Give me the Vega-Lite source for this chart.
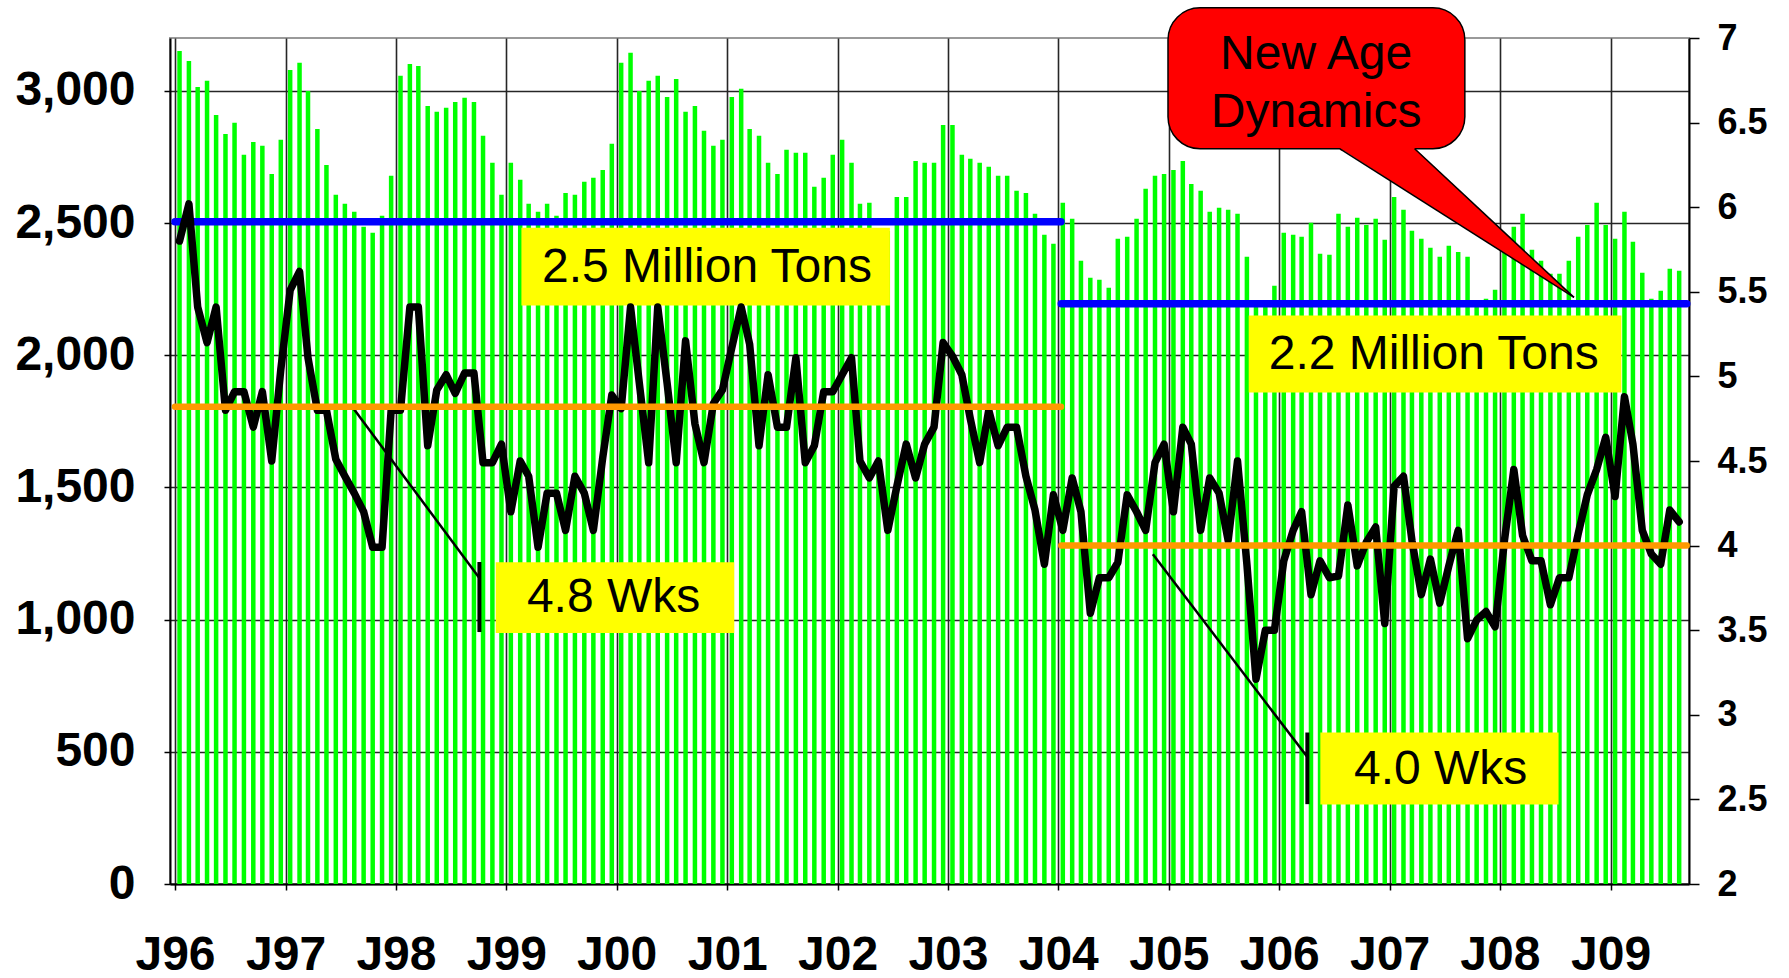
{
  "$schema": "https://vega.github.io/schema/vega-lite/v6.json",
  "width": 1519,
  "height": 846,
  "autosize": {"type": "none"},
  "padding": {"left": 170, "top": 38, "right": 100, "bottom": 94},
  "background": "#ffffff",
  "config": {"font": "Liberation Sans", "view": {"stroke": "#9a9a9a", "strokeWidth": 2}},
  "datasets": {
    "main": [
      {"date":"1996-01-16","tons":3151,"wks":5.80},{"date":"1996-02-16","tons":3113,"wks":6.02},{"date":"1996-03-16","tons":3015,"wks":5.41},{"date":"1996-04-16","tons":3038,"wks":5.20},{"date":"1996-05-16","tons":2909,"wks":5.41},{"date":"1996-06-16","tons":2837,"wks":4.80},{"date":"1996-07-16","tons":2879,"wks":4.91},{"date":"1996-08-16","tons":2758,"wks":4.91},{"date":"1996-09-16","tons":2807,"wks":4.70},{"date":"1996-10-16","tons":2792,"wks":4.91},{"date":"1996-11-16","tons":2686,"wks":4.50},{"date":"1996-12-16","tons":2815,"wks":5.04},
      {"date":"1997-01-16","tons":3079,"wks":5.51},{"date":"1997-02-16","tons":3106,"wks":5.62},{"date":"1997-03-16","tons":3000,"wks":5.11},{"date":"1997-04-16","tons":2856,"wks":4.80},{"date":"1997-05-16","tons":2720,"wks":4.80},{"date":"1997-06-16","tons":2607,"wks":4.51},{"date":"1997-07-16","tons":2573,"wks":4.41},{"date":"1997-08-16","tons":2543,"wks":4.31},{"date":"1997-09-16","tons":2486,"wks":4.20},{"date":"1997-10-16","tons":2463,"wks":3.99},{"date":"1997-11-16","tons":2528,"wks":3.99},{"date":"1997-12-16","tons":2679,"wks":4.80},
      {"date":"1998-01-16","tons":3057,"wks":4.80},{"date":"1998-02-16","tons":3102,"wks":5.41},{"date":"1998-03-16","tons":3094,"wks":5.41},{"date":"1998-04-16","tons":2943,"wks":4.59},{"date":"1998-05-16","tons":2921,"wks":4.92},{"date":"1998-06-16","tons":2936,"wks":5.01},{"date":"1998-07-16","tons":2958,"wks":4.90},{"date":"1998-08-16","tons":2974,"wks":5.02},{"date":"1998-09-16","tons":2958,"wks":5.02},{"date":"1998-10-16","tons":2830,"wks":4.49},{"date":"1998-11-16","tons":2728,"wks":4.49},{"date":"1998-12-16","tons":2607,"wks":4.60},
      {"date":"1999-01-16","tons":2728,"wks":4.20},{"date":"1999-02-16","tons":2664,"wks":4.50},{"date":"1999-03-16","tons":2573,"wks":4.41},{"date":"1999-04-16","tons":2543,"wks":3.99},{"date":"1999-05-16","tons":2573,"wks":4.31},{"date":"1999-06-16","tons":2528,"wks":4.31},{"date":"1999-07-16","tons":2614,"wks":4.09},{"date":"1999-08-16","tons":2607,"wks":4.41},{"date":"1999-09-16","tons":2656,"wks":4.31},{"date":"1999-10-16","tons":2671,"wks":4.09},{"date":"1999-11-16","tons":2701,"wks":4.52},{"date":"1999-12-16","tons":2800,"wks":4.89},
      {"date":"2000-01-16","tons":3106,"wks":4.81},{"date":"2000-02-16","tons":3144,"wks":5.41},{"date":"2000-03-16","tons":3000,"wks":4.96},{"date":"2000-04-16","tons":3038,"wks":4.49},{"date":"2000-05-16","tons":3057,"wks":5.41},{"date":"2000-06-16","tons":2977,"wks":4.96},{"date":"2000-07-16","tons":3045,"wks":4.49},{"date":"2000-08-16","tons":2921,"wks":5.21},{"date":"2000-09-16","tons":2943,"wks":4.72},{"date":"2000-10-16","tons":2849,"wks":4.49},{"date":"2000-11-16","tons":2792,"wks":4.84},{"date":"2000-12-16","tons":2815,"wks":4.92},
      {"date":"2001-01-16","tons":2977,"wks":5.17},{"date":"2001-02-16","tons":3008,"wks":5.41},{"date":"2001-03-16","tons":2856,"wks":5.19},{"date":"2001-04-16","tons":2830,"wks":4.59},{"date":"2001-05-16","tons":2728,"wks":5.01},{"date":"2001-06-16","tons":2686,"wks":4.70},{"date":"2001-07-16","tons":2777,"wks":4.70},{"date":"2001-08-16","tons":2766,"wks":5.11},{"date":"2001-09-16","tons":2766,"wks":4.49},{"date":"2001-10-16","tons":2637,"wks":4.59},{"date":"2001-11-16","tons":2671,"wks":4.91},{"date":"2001-12-16","tons":2758,"wks":4.91},
      {"date":"2002-01-16","tons":2815,"wks":5.01},{"date":"2002-02-16","tons":2728,"wks":5.11},{"date":"2002-03-16","tons":2573,"wks":4.50},{"date":"2002-04-16","tons":2577,"wks":4.40},{"date":"2002-05-16","tons":2480,"wks":4.50},{"date":"2002-06-16","tons":2470,"wks":4.09},{"date":"2002-07-16","tons":2599,"wks":4.35},{"date":"2002-08-16","tons":2599,"wks":4.60},{"date":"2002-09-16","tons":2735,"wks":4.40},{"date":"2002-10-16","tons":2728,"wks":4.60},{"date":"2002-11-16","tons":2728,"wks":4.70},{"date":"2002-12-16","tons":2871,"wks":5.20},
      {"date":"2003-01-16","tons":2871,"wks":5.12},{"date":"2003-02-16","tons":2758,"wks":5.01},{"date":"2003-03-16","tons":2743,"wks":4.75},{"date":"2003-04-16","tons":2728,"wks":4.49},{"date":"2003-05-16","tons":2713,"wks":4.80},{"date":"2003-06-16","tons":2679,"wks":4.59},{"date":"2003-07-16","tons":2679,"wks":4.70},{"date":"2003-08-16","tons":2622,"wks":4.70},{"date":"2003-09-16","tons":2614,"wks":4.41},{"date":"2003-10-16","tons":2535,"wks":4.21},{"date":"2003-11-16","tons":2456,"wks":3.89},{"date":"2003-12-16","tons":2422,"wks":4.30},
      {"date":"2004-01-16","tons":2577,"wks":4.09},{"date":"2004-02-16","tons":2516,"wks":4.40},{"date":"2004-03-16","tons":2357,"wks":4.20},{"date":"2004-04-16","tons":2293,"wks":3.60},{"date":"2004-05-16","tons":2286,"wks":3.81},{"date":"2004-06-16","tons":2255,"wks":3.81},{"date":"2004-07-16","tons":2441,"wks":3.90},{"date":"2004-08-16","tons":2448,"wks":4.30},{"date":"2004-09-16","tons":2516,"wks":4.20},{"date":"2004-10-16","tons":2630,"wks":4.09},{"date":"2004-11-16","tons":2679,"wks":4.49},{"date":"2004-12-16","tons":2686,"wks":4.60},
      {"date":"2005-01-16","tons":2701,"wks":4.20},{"date":"2005-02-16","tons":2735,"wks":4.70},{"date":"2005-03-16","tons":2648,"wks":4.60},{"date":"2005-04-16","tons":2622,"wks":4.09},{"date":"2005-05-16","tons":2543,"wks":4.40},{"date":"2005-06-16","tons":2558,"wks":4.31},{"date":"2005-07-16","tons":2550,"wks":4.03},{"date":"2005-08-16","tons":2535,"wks":4.50},{"date":"2005-09-16","tons":2373,"wks":3.89},{"date":"2005-10-16","tons":2190,"wks":3.21},{"date":"2005-11-16","tons":2185,"wks":3.50},{"date":"2005-12-16","tons":2263,"wks":3.50},
      {"date":"2006-01-16","tons":2463,"wks":3.91},{"date":"2006-02-16","tons":2456,"wks":4.09},{"date":"2006-03-16","tons":2448,"wks":4.20},{"date":"2006-04-16","tons":2501,"wks":3.71},{"date":"2006-05-16","tons":2384,"wks":3.91},{"date":"2006-06-16","tons":2380,"wks":3.81},{"date":"2006-07-16","tons":2535,"wks":3.82},{"date":"2006-08-16","tons":2486,"wks":4.24},{"date":"2006-09-16","tons":2520,"wks":3.88},{"date":"2006-10-16","tons":2493,"wks":4.02},{"date":"2006-11-16","tons":2516,"wks":4.11},{"date":"2006-12-16","tons":2437,"wks":3.54},
      {"date":"2007-01-16","tons":2599,"wks":4.35},{"date":"2007-02-16","tons":2550,"wks":4.41},{"date":"2007-03-16","tons":2471,"wks":4.03},{"date":"2007-04-16","tons":2441,"wks":3.71},{"date":"2007-05-16","tons":2407,"wks":3.92},{"date":"2007-06-16","tons":2373,"wks":3.66},{"date":"2007-07-16","tons":2414,"wks":3.88},{"date":"2007-08-16","tons":2391,"wks":4.09},{"date":"2007-09-16","tons":2373,"wks":3.45},{"date":"2007-10-16","tons":2195,"wks":3.56},{"date":"2007-11-16","tons":2214,"wks":3.61},{"date":"2007-12-16","tons":2248,"wks":3.52},
      {"date":"2008-01-16","tons":2420,"wks":4.03},{"date":"2008-02-16","tons":2486,"wks":4.45},{"date":"2008-03-16","tons":2535,"wks":4.06},{"date":"2008-04-16","tons":2399,"wks":3.91},{"date":"2008-05-16","tons":2357,"wks":3.91},{"date":"2008-06-16","tons":2308,"wks":3.65},{"date":"2008-07-16","tons":2308,"wks":3.81},{"date":"2008-08-16","tons":2357,"wks":3.81},{"date":"2008-09-16","tons":2448,"wks":4.07},{"date":"2008-10-16","tons":2493,"wks":4.30},{"date":"2008-11-16","tons":2577,"wks":4.45},{"date":"2008-12-16","tons":2493,"wks":4.64},
      {"date":"2009-01-16","tons":2441,"wks":4.29},{"date":"2009-02-16","tons":2543,"wks":4.88},{"date":"2009-03-16","tons":2429,"wks":4.60},{"date":"2009-04-16","tons":2312,"wks":4.09},{"date":"2009-05-16","tons":2214,"wks":3.95},{"date":"2009-06-16","tons":2244,"wks":3.89},{"date":"2009-07-16","tons":2327,"wks":4.21},{"date":"2009-08-16","tons":2320,"wks":4.14}
    ]
  },
  "resolve": {"scale": {"y": "independent"}},
  "layer": [
    {
      "layer": [
        {
          "data": {"name": "main"},
          "mark": {"type": "bar", "color": "#00FF00", "width": 4.5},
          "encoding": {
            "x": {
              "field": "date", "type": "temporal", "title": null,
              "scale": {"type": "utc", "nice": false, "domain": [{"year": 1996, "month": 1, "date": 1, "utc": true}, {"year": 2009, "month": 9, "date": 1, "utc": true}]},
              "axis": {
                "values": [
                  {"year": 1996, "month": 1, "date": 1, "utc": true}, {"year": 1997, "month": 1, "date": 1, "utc": true},
                  {"year": 1998, "month": 1, "date": 1, "utc": true}, {"year": 1999, "month": 1, "date": 1, "utc": true},
                  {"year": 2000, "month": 1, "date": 1, "utc": true}, {"year": 2001, "month": 1, "date": 1, "utc": true},
                  {"year": 2002, "month": 1, "date": 1, "utc": true}, {"year": 2003, "month": 1, "date": 1, "utc": true},
                  {"year": 2004, "month": 1, "date": 1, "utc": true}, {"year": 2005, "month": 1, "date": 1, "utc": true},
                  {"year": 2006, "month": 1, "date": 1, "utc": true}, {"year": 2007, "month": 1, "date": 1, "utc": true},
                  {"year": 2008, "month": 1, "date": 1, "utc": true}, {"year": 2009, "month": 1, "date": 1, "utc": true}
                ],
                "labelExpr": "'J' + utcFormat(datum.value, '%y')",
                "grid": true, "gridColor": "#262626", "gridWidth": 1.6,
                "domainColor": "#000000", "domainWidth": 2,
                "tickColor": "#000000", "tickSize": 6, "tickWidth": 1.5,
                "labelFont": "Liberation Sans", "labelFontSize": 48, "labelFontWeight": "bold", "labelColor": "#000000",
                "labelPadding": 41, "labelOffset": 0, "labelFlush": false, "labelOverlap": false, "labelBound": false
              }
            },
            "y": {
              "field": "tons", "type": "quantitative", "title": null,
              "scale": {"domain": [0, 3200], "nice": false},
              "axis": {
                "orient": "left",
                "values": [0, 500, 1000, 1500, 2000, 2500, 3000], "format": ",.0f",
                "grid": true, "gridColor": "#262626", "gridWidth": 1.6,
                "domainColor": "#000000", "domainWidth": 2,
                "tickColor": "#000000", "tickSize": 6, "tickWidth": 1.5,
                "labelFont": "Liberation Sans", "labelFontSize": 48, "labelFontWeight": "bold", "labelColor": "#000000",
                "labelPadding": 29, "labelFlush": false, "labelOverlap": false
              }
            }
          }
        },
        {
          "data": {"values": [
            {"xa": "1996-01-01", "xb": "2004-01-10", "v": 2505},
            {"xa": "2004-01-11", "xb": "2009-09-10", "v": 2195}
          ]},
          "mark": {"type": "rule", "color": "#0000FF", "strokeWidth": 7.5, "strokeCap": "round"},
          "encoding": {
            "x": {"field": "xa", "type": "temporal", "title": null, "scale": {"type": "utc", "nice": false, "domain": [{"year": 1996, "month": 1, "date": 1, "utc": true}, {"year": 2009, "month": 9, "date": 1, "utc": true}]}},
            "x2": {"field": "xb"},
            "y": {"field": "v", "type": "quantitative", "title": null, "scale": {"domain": [0, 3200], "nice": false}}
          }
        },
        {
          "data": {"values": [
            {"xa": "1999-02-20", "xb": "2002-06-23", "ya": 2188, "yb": 2482},
            {"xa": "2005-09-22", "xb": "2009-02-06", "ya": 1859, "yb": 2150},
            {"xa": "1998-11-27", "xb": "2001-01-24", "ya": 949, "yb": 1217},
            {"xa": "2006-05-17", "xb": "2008-07-13", "ya": 301, "yb": 573}
          ]},
          "mark": {"type": "rect", "color": "#FFFF00"},
          "encoding": {
            "x": {"field": "xa", "type": "temporal", "title": null, "scale": {"type": "utc", "nice": false, "domain": [{"year": 1996, "month": 1, "date": 1, "utc": true}, {"year": 2009, "month": 9, "date": 1, "utc": true}]}},
            "x2": {"field": "xb"},
            "y": {"field": "ya", "type": "quantitative", "title": null, "scale": {"domain": [0, 3200], "nice": false}},
            "y2": {"field": "yb"}
          }
        },
        {
          "data": {"values": [
            {"xa": "2000-10-26", "v": 2330, "t": "2.5 Million Tons"},
            {"xa": "2007-05-27", "v": 2000, "t": "2.2 Million Tons"},
            {"xa": "1999-12-22", "v": 1080, "t": "4.8 Wks"},
            {"xa": "2007-06-19", "v": 432, "t": "4.0 Wks"}
          ]},
          "mark": {"type": "text", "font": "Liberation Sans", "fontSize": 48, "color": "#000000", "align": "center", "baseline": "middle"},
          "encoding": {
            "x": {"field": "xa", "type": "temporal", "title": null, "scale": {"type": "utc", "nice": false, "domain": [{"year": 1996, "month": 1, "date": 1, "utc": true}, {"year": 2009, "month": 9, "date": 1, "utc": true}]}},
            "y": {"field": "v", "type": "quantitative", "title": null, "scale": {"domain": [0, 3200], "nice": false}},
            "text": {"field": "t"}
          }
        },
        {
          "data": {"values": [
            {"xa": "1997-08-14", "xb": "1998-10-02", "ya": 1798, "yb": 1160},
            {"xa": "2004-11-09", "xb": "2006-04-04", "ya": 1247, "yb": 480}
          ]},
          "mark": {"type": "rule", "color": "#000000", "strokeWidth": 2.5},
          "encoding": {
            "x": {"field": "xa", "type": "temporal", "title": null, "scale": {"type": "utc", "nice": false, "domain": [{"year": 1996, "month": 1, "date": 1, "utc": true}, {"year": 2009, "month": 9, "date": 1, "utc": true}]}},
            "x2": {"field": "xb"},
            "y": {"field": "ya", "type": "quantitative", "title": null, "scale": {"domain": [0, 3200], "nice": false}},
            "y2": {"field": "yb"}
          }
        },
        {
          "data": {"values": [
            {"xa": "1998-10-04", "ya": 953, "yb": 1218},
            {"xa": "2006-04-04", "ya": 302, "yb": 573}
          ]},
          "mark": {"type": "rule", "color": "#000000", "strokeWidth": 4},
          "encoding": {
            "x": {"field": "xa", "type": "temporal", "title": null, "scale": {"type": "utc", "nice": false, "domain": [{"year": 1996, "month": 1, "date": 1, "utc": true}, {"year": 2009, "month": 9, "date": 1, "utc": true}]}},
            "y": {"field": "ya", "type": "quantitative", "title": null, "scale": {"domain": [0, 3200], "nice": false}},
            "y2": {"field": "yb"}
          }
        },
        {
          "data": {"values": [
            {"xa": "2004-12-29", "xb": "2007-09-07", "ya": 2781, "yb": 3314}
          ]},
          "mark": {"type": "rect", "color": "#FF0000", "stroke": "#000000", "strokeWidth": 1.5, "cornerRadius": 32},
          "encoding": {
            "x": {"field": "xa", "type": "temporal", "title": null, "scale": {"type": "utc", "nice": false, "domain": [{"year": 1996, "month": 1, "date": 1, "utc": true}, {"year": 2009, "month": 9, "date": 1, "utc": true}]}},
            "x2": {"field": "xb"},
            "y": {"field": "ya", "type": "quantitative", "title": null, "scale": {"domain": [0, 3200], "nice": false}},
            "y2": {"field": "yb"}
          }
        },
        {
          "data": {"values": [
            {"xa": "2006-07-21", "ya": 2783, "yb": 2783},
            {"xa": "2007-03-25", "ya": 2783, "yb": 2601},
            {"xa": "2008-09-02", "ya": 2219, "yb": 2219}
          ]},
          "mark": {"type": "area", "color": "#FF0000", "interpolate": "linear"},
          "encoding": {
            "x": {"field": "xa", "type": "temporal", "title": null, "scale": {"type": "utc", "nice": false, "domain": [{"year": 1996, "month": 1, "date": 1, "utc": true}, {"year": 2009, "month": 9, "date": 1, "utc": true}]}},
            "y": {"field": "ya", "type": "quantitative", "title": null, "scale": {"domain": [0, 3200], "nice": false}},
            "y2": {"field": "yb"}
          }
        },
        {
          "data": {"values": [
            {"xa": "2006-07-23", "xb": "2007-03-23", "v": 2781}
          ]},
          "mark": {"type": "rule", "color": "#FF0000", "strokeWidth": 3.5},
          "encoding": {
            "x": {"field": "xa", "type": "temporal", "title": null, "scale": {"type": "utc", "nice": false, "domain": [{"year": 1996, "month": 1, "date": 1, "utc": true}, {"year": 2009, "month": 9, "date": 1, "utc": true}]}},
            "x2": {"field": "xb"},
            "y": {"field": "v", "type": "quantitative", "title": null, "scale": {"domain": [0, 3200], "nice": false}}
          }
        },
        {
          "data": {"values": [
            {"xa": "2006-07-21", "ya": 2781, "xb": "2008-09-02", "yb": 2219},
            {"xa": "2007-03-25", "ya": 2781, "xb": "2008-09-02", "yb": 2219}
          ]},
          "mark": {"type": "rule", "color": "#000000", "strokeWidth": 1.5},
          "encoding": {
            "x": {"field": "xa", "type": "temporal", "title": null, "scale": {"type": "utc", "nice": false, "domain": [{"year": 1996, "month": 1, "date": 1, "utc": true}, {"year": 2009, "month": 9, "date": 1, "utc": true}]}},
            "x2": {"field": "xb"},
            "y": {"field": "ya", "type": "quantitative", "title": null, "scale": {"domain": [0, 3200], "nice": false}},
            "y2": {"field": "yb"}
          }
        },
        {
          "data": {"values": [
            {"xa": "2006-05-03", "v": 3135, "t": "New Age"},
            {"xa": "2006-05-03", "v": 2918, "t": "Dynamics"}
          ]},
          "mark": {"type": "text", "font": "Liberation Sans", "fontSize": 48, "color": "#000000", "align": "center", "baseline": "middle"},
          "encoding": {
            "x": {"field": "xa", "type": "temporal", "title": null, "scale": {"type": "utc", "nice": false, "domain": [{"year": 1996, "month": 1, "date": 1, "utc": true}, {"year": 2009, "month": 9, "date": 1, "utc": true}]}},
            "y": {"field": "v", "type": "quantitative", "title": null, "scale": {"domain": [0, 3200], "nice": false}},
            "text": {"field": "t"}
          }
        }
      ]
    },
    {
      "layer": [
        {
          "data": {"name": "main"},
          "mark": {"type": "line", "color": "#000000", "strokeWidth": 7.5, "strokeJoin": "round", "strokeCap": "round"},
          "encoding": {
            "x": {"field": "date", "type": "temporal", "title": null, "scale": {"type": "utc", "nice": false, "domain": [{"year": 1996, "month": 1, "date": 1, "utc": true}, {"year": 2009, "month": 9, "date": 1, "utc": true}]}},
            "y": {
              "field": "wks", "type": "quantitative", "title": null,
              "scale": {"domain": [2, 7], "nice": false, "zero": false},
              "axis": {
                "orient": "right",
                "values": [2, 2.5, 3, 3.5, 4, 4.5, 5, 5.5, 6, 6.5, 7], "format": "~g",
                "grid": false,
                "domainColor": "#000000", "domainWidth": 2,
                "tickColor": "#000000", "tickSize": 10, "tickWidth": 1.5,
                "labelFont": "Liberation Sans", "labelFontSize": 36, "labelFontWeight": "bold", "labelColor": "#000000",
                "labelPadding": 18, "labelFlush": false, "labelOverlap": false
              }
            }
          }
        },
        {
          "data": {"values": [
            {"xa": "1996-01-01", "xb": "2004-01-10", "v": 4.82},
            {"xa": "2004-01-11", "xb": "2009-09-10", "v": 4.0}
          ]},
          "mark": {"type": "rule", "color": "#FF9900", "strokeWidth": 6.5, "strokeCap": "round"},
          "encoding": {
            "x": {"field": "xa", "type": "temporal", "title": null, "scale": {"type": "utc", "nice": false, "domain": [{"year": 1996, "month": 1, "date": 1, "utc": true}, {"year": 2009, "month": 9, "date": 1, "utc": true}]}},
            "x2": {"field": "xb"},
            "y": {"field": "v", "type": "quantitative", "title": null, "scale": {"domain": [2, 7], "nice": false, "zero": false}}
          }
        }
      ]
    }
  ]
}
